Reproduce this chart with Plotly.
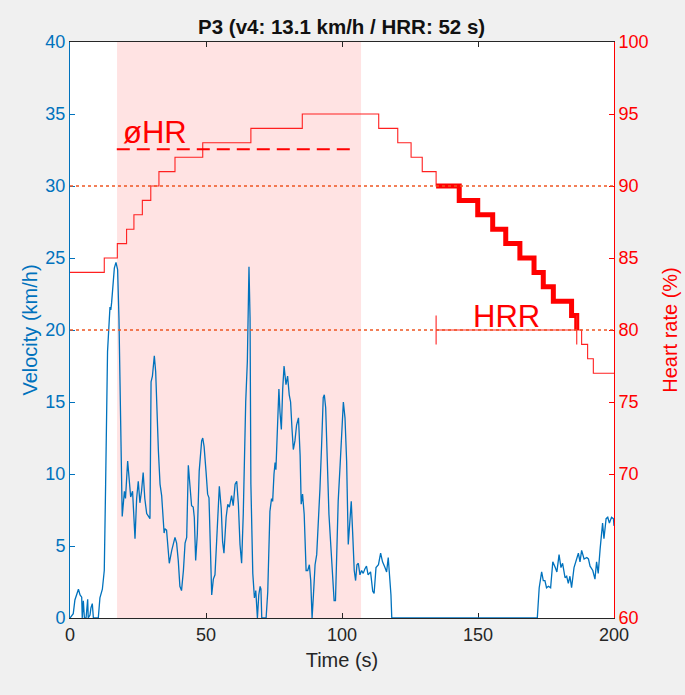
import plotly.graph_objects as go

# ---------------- data ----------------
time_s = [0, 1.2, 1.8, 3.1, 3.7, 4.3, 4.5, 4.9, 5.3, 5.9, 6.5, 6.7, 7.35, 7.7, 8.2, 8.6, 10.4, 11.0,
          11.9, 12.6, 13.1, 13.8, 14.7, 15.0, 15.3, 16.3, 16.9, 17.5, 18.0, 18.6, 19.2, 20.0, 20.4,
          21.2, 21.8, 22.3, 23.0, 23.9, 24.5, 25.1, 25.7, 26.3, 26.9, 27.5, 28.2, 28.8, 29.4, 29.8,
          30.3, 31.0, 31.5, 32.5, 33.1, 33.7, 34.6, 34.9, 35.5, 36.5, 37.4, 38.6, 39.2, 39.8, 40.4,
          41.0, 41.7, 42.3, 42.9, 43.5, 44.1, 44.7, 45.3, 45.7, 46.2, 46.8, 47.5, 48.4, 48.8, 49.3,
          50.0, 50.6, 51.1, 51.5, 52.1, 52.7, 53.3, 53.9, 54.9, 55.6, 56.1, 56.6, 57.4, 58.0, 58.6,
          59.4, 60.0, 60.7, 61.3, 61.9, 62.5, 63.1, 63.7, 64.6, 65.2, 65.8, 66.2, 66.5, 67.2, 67.8,
          68.3, 68.9, 69.4, 69.9, 70.2, 70.5, 71.3, 72.1, 72.7, 73.5, 74.1, 74.5, 75.0, 75.4, 75.7,
          76.2, 76.8, 77.2, 77.7, 78.2, 78.7, 79.4, 80.0, 80.6, 81.1, 81.6, 82.1, 82.7, 83.3, 84.0,
          84.6, 85.0, 85.5, 86.1, 86.8, 87.4, 88.0, 88.5, 89.0, 89.5, 90.1, 90.7, 91.3, 91.9, 92.5,
          93.1, 93.5, 94.0, 94.6, 95.2, 95.8, 96.6, 97.1, 97.6, 98.0, 98.6, 99.3, 99.9, 100.5, 101.1,
          101.7, 102.3, 102.7, 103.4, 103.9, 104.5, 105.0, 105.5, 106.0, 106.6, 107.2, 107.8, 108.4,
          109.0, 109.6, 110.5, 111.3, 111.8, 112.5, 113.4, 114.2, 114.9, 115.8, 116.4, 117.0, 117.6,
          118.0, 118.3, 171.8, 172.5, 173.4, 174.0, 174.6, 175.2, 175.9, 176.7, 177.5, 178.4, 179.0,
          179.8, 180.5, 181.1, 182.0, 182.6, 183.2, 183.8, 184.4, 185.3, 186.0, 186.9, 187.5, 188.1,
          189.0, 190.0, 190.6, 191.2, 192.2, 193.0, 193.6, 194.2, 194.9, 195.5, 195.8, 196.3, 197.1,
          197.7, 198.3, 199.1, 199.8, 200.0]
velocity = [0, 0.3, 1.25, 2.0, 1.6, 1.45, 0, 1.2, 0, 0, 1.3, 0, 0.2, 0.7, 1.0, 0, 0, 1.4,
            2.0, 3.3, 9.3, 18.5, 21.6, 21.4, 21.9, 24.3, 24.7, 24.2, 20.8, 13.9, 7.05, 8.8, 8.3,
            10.9, 9.3, 8.4, 8.8, 5.5, 8.3, 9.5, 8.0, 8.8, 10.1, 8.3, 7.25, 7.1, 6.9, 16.4,
            16.8, 18.2, 17.1, 11.6, 9.3, 8.5, 5.9, 6.2, 6.1, 3.8, 4.7, 5.6, 5.2, 4.0, 2.2,
            1.9, 3.3, 5.2, 5.6, 10.6, 9.3, 7.8, 7.7, 7.0, 4.0, 5.8, 10.2, 12.3, 12.5, 11.9,
            10.2, 8.6, 8.35, 5.8, 1.6, 2.7, 3.0, 5.3, 9.15, 7.6, 5.3, 4.5, 7.0, 7.9, 7.7,
            8.5, 7.8, 9.3, 9.5, 7.9, 5.1, 3.8, 7.2, 15.0, 17.8, 24.4, 20.8, 9.3, 3.1, 1.4,
            1.9, 0, 1.6, 2.2, 2.0, 0, 0, 0, 1.8, 7.4, 8.3, 8.1, 10.0, 10.8, 10.3,
            13.6, 15.9, 14.3, 13.1, 15.9, 17.5, 16.2, 16.8, 15.5, 15.0, 13.2, 11.7, 12.3, 13.4, 13.9,
            11.3, 7.9, 8.6, 7.2, 3.3, 3.3, 3.7, 2.6, 0, 1.6, 3.7, 4.4, 6.3, 9.0, 12.0,
            15.3, 15.5, 14.6, 10.9, 7.2, 5.3, 3.0, 1.2, 1.2, 3.9, 8.1, 10.6, 13.2, 15.0, 13.9,
            10.9, 5.1, 6.0, 8.1, 6.0, 3.3, 2.6, 3.7, 3.8, 3.0, 3.3, 3.1, 3.4,
            3.6, 3.0, 3.2, 1.85, 1.7, 3.5, 3.7, 4.5, 3.9, 3.5, 3.2, 4.2, 2.8,
            1.6, 0, 0, 2.1, 3.2, 2.6, 2.6, 2.1, 2.2, 2.1, 3.9, 3.5, 3.2,
            4.4, 3.5, 3.8, 2.8, 2.9, 2.4, 2.9, 2.1, 3.5, 3.9, 4.5, 3.9, 4.7,
            4.1, 4.2, 4.1, 3.6, 3.3, 2.7, 3.9, 3.1, 4.8, 6.4, 6.6, 5.5, 6.9,
            7.0, 6.6, 7.0, 6.9, 6.4]

hr_time = [0, 12.6, 17.4, 20.8, 23.5, 26.6, 29.7, 32.7, 38.6, 48.8, 66.5, 85.4, 113.5, 120.5,
           125.4, 129.5, 134.6, 143.1, 149.9, 155.4, 160.2, 165.4, 170.6, 174.0, 177.7, 184.4,
           186.3, 188.1, 190.3, 192.4, 200.0]
hr_value = [84, 85, 86, 87, 88, 89, 90, 91, 92, 93, 94, 95, 94, 93,
            92, 91, 90, 89, 88, 87, 86, 85, 84, 83, 82, 81,
            80, 79, 78, 77, 77]

recovery_start, recovery_end = 134.6, 186.3   # HRR window (s)
recovery_hr_end = 80
mean_hr = 92.55
mean_window = (17.2, 104.8)
shade_window = (17.3, 107.0)
threshold_velocities = [20, 30]

title_text = "P3 (v4: 13.1 km/h / HRR: 52 s)"
x_ticks = [0, 50, 100, 150, 200]
v_ticks = [0, 5, 10, 15, 20, 25, 30, 35, 40]
hr_ticks = [60, 70, 75, 80, 85, 90, 95, 100]

# ---------------- figure ----------------
BLUE = "#0072BD"
RED = "#FF0000"
DARK = "#262626"
BG = "#F0F0F0"
FONT = "Liberation Sans, Arial, sans-serif"

fig = go.Figure()

# velocity
fig.add_trace(go.Scatter(x=time_s, y=velocity, mode="lines",
                         line=dict(color=BLUE, width=1.3), yaxis="y", showlegend=False))

# heart rate (thin step)
fig.add_trace(go.Scatter(x=hr_time, y=hr_value, mode="lines", line_shape="hv",
                         line=dict(color="#FF2020", width=1.1), yaxis="y2", showlegend=False))

# heart rate recovery part (thick)
rx = [t for t in hr_time if recovery_start <= t <= recovery_end]
ry = [hr_value[hr_time.index(t)] for t in rx]
fig.add_trace(go.Scatter(x=rx, y=ry, mode="lines", line_shape="hv",
                         line=dict(color=RED, width=5), yaxis="y2", showlegend=False))

# HRR horizontal bar with caps
fig.add_trace(go.Scatter(
    x=[recovery_start, recovery_start, None, recovery_start, recovery_end, None, recovery_end, recovery_end],
    y=[recovery_hr_end - 1, recovery_hr_end + 1, None, recovery_hr_end, recovery_hr_end, None,
       recovery_hr_end - 1, recovery_hr_end + 1],
    mode="lines", line=dict(color="#FF2020", width=1.1), yaxis="y2", showlegend=False))

# mean HR dashed line
fig.add_trace(go.Scatter(x=list(mean_window), y=[mean_hr, mean_hr], mode="lines",
                         line=dict(color=RED, width=2, dash="13px,7px"), yaxis="y2", showlegend=False))

# threshold dotted lines
for tv in threshold_velocities:
    fig.add_shape(type="line", xref="x", yref="y", x0=0, x1=200, y0=tv, y1=tv,
                  line=dict(color="#EE5522", width=1.3, dash="dot"), layer="above")

# shaded window
fig.add_shape(type="rect", xref="x", yref="paper", x0=shade_window[0], x1=shade_window[1],
              y0=0, y1=1, fillcolor="#FFE3E3", line=dict(width=0), layer="below")

fig.add_annotation(x=31.3, y=93.7, xref="x", yref="y2", text="øHR", showarrow=False,
                   font=dict(family=FONT, size=31, color=RED))
fig.add_annotation(x=160.3, y=80.95, xref="x", yref="y2", text="HRR", showarrow=False,
                   font=dict(family=FONT, size=31, color=RED))

fig.update_layout(
    width=685, height=695,
    paper_bgcolor=BG, plot_bgcolor="white",
    margin=dict(l=70, r=71, t=42, b=77, autoexpand=False),
    font=dict(family=FONT, size=18, color=DARK),
    title=dict(text="<b>" + title_text + "</b>", x=342 / 685, xref="paper", y=1 - 27 / 695,
               yanchor="middle", xanchor="center", font=dict(size=20.5, color="#111111")),
    xaxis=dict(range=[0, 200], tickvals=x_ticks, ticks="inside", ticklen=5, tickcolor=DARK,
               showline=True, linecolor=DARK, linewidth=1, mirror="ticks", showgrid=False,
               zeroline=False, layer="below traces", automargin=False,
               title=dict(text="Time (s)", font=dict(size=20, color=DARK), standoff=9),
               tickfont=dict(size=18, color=DARK)),
    yaxis=dict(range=[0, 40], tickvals=v_ticks, ticks="inside", ticklen=5, tickcolor=BLUE,
               showline=True, linecolor=BLUE, linewidth=1, showgrid=False, zeroline=False,
               automargin=False,
               title=dict(text="Velocity (km/h)", font=dict(size=20, color=BLUE), standoff=2),
               tickfont=dict(size=18, color=BLUE)),
    yaxis2=dict(range=[60, 100], tickvals=hr_ticks, ticks="inside", ticklen=5, tickcolor=RED,
                overlaying="y", side="right", showline=True, linecolor=RED, linewidth=1,
                showgrid=False, zeroline=False, automargin=False,
                title=dict(text="Heart rate (%)", font=dict(size=20, color=RED), standoff=15),
                tickfont=dict(size=18, color=RED)),
)

fig.write_html("out.html", config={"displayModeBar": False},
               post_script="document.body.style.margin='0';document.body.style.background='%s';" % BG)
